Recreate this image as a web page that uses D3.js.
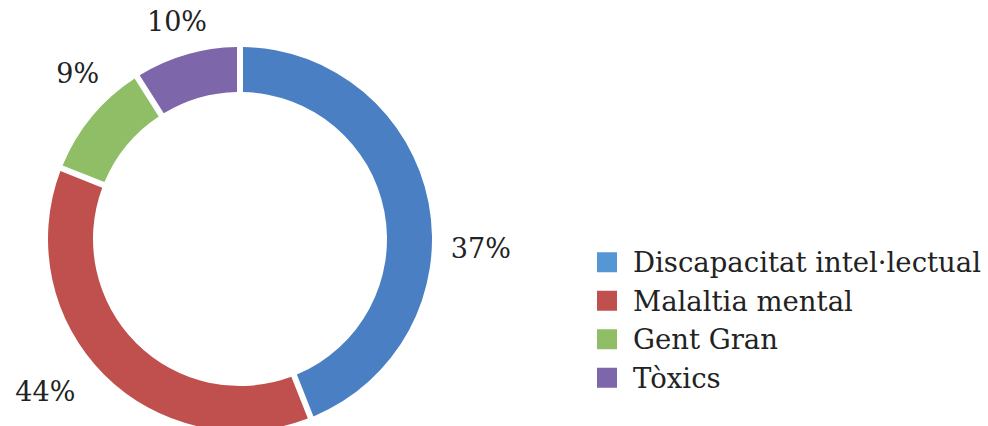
<!DOCTYPE html>
<html>
<head>
<meta charset="utf-8">
<script src="https://cdn.jsdelivr.net/npm/d3@7"></script>
<style>
  body { margin: 0; background: #fff; }
  svg { display: block; }
  text { font-family: "DejaVu Serif", "Liberation Serif", serif; fill: #222; }
</style>
</head>
<body>
<svg id="chart" width="988" height="426"></svg>
<script>
// categories and values (ring shares)
const categories = ["Discapacitat intel·lectual", "Malaltia mental", "Gent Gran", "Tòxics"];
const values = [44, 37, 10, 9];
// label texts as printed on the picture
const labels = ["37%", "44%", "9%", "10%"];

const arcColors = ["#4a80c3", "#c0504d", "#8fbe67", "#7d66aa"];
const keyColors = ["#5597d5", "#c0504d", "#8fbe67", "#7d66aa"];
// label placement tweaks (degrees, px) relative to the slice middle
const labelNudge = [[13, 3], [7, 9], [6, -6], [0, -12]];

const svg = d3.select("#chart");
const cx = 240, cy = 239, rOuter = 192, rInner = 147, rLabel = 238;

const pie = d3.pie().sort(null).value(d => d);
const arcs = pie(values);
const arc = d3.arc().innerRadius(rInner).outerRadius(rOuter)
    .padAngle(6 / rOuter).padRadius(rOuter);

const g = svg.append("g").attr("transform", `translate(${cx},${cy})`);

g.selectAll("path")
    .data(arcs)
    .enter().append("path")
    .attr("d", arc)
    .attr("fill", (d, i) => arcColors[i]);

g.selectAll(".lbl")
    .data(arcs)
    .enter().append("text")
    .attr("class", "lbl")
    .attr("text-anchor", "middle")
    .attr("dy", "0.35em")
    .style("font-size", "27px")
    .attr("transform", (d, i) => {
      const a = (d.startAngle + d.endAngle) / 2 + labelNudge[i][0] * Math.PI / 180;
      const r = rLabel + labelNudge[i][1];
      return `translate(${r * Math.sin(a)},${-r * Math.cos(a)})`;
    })
    .text((d, i) => labels[i]);

// legend
const y = d3.scaleBand().domain(categories).range([243, 397]);
const legend = svg.append("g");
const item = legend.selectAll("g")
    .data(categories)
    .enter().append("g")
    .attr("transform", d => `translate(597,${y(d) + y.bandwidth() / 2})`);

item.append("rect")
    .attr("x", 0).attr("y", -10)
    .attr("width", 20).attr("height", 20)
    .attr("fill", (d, i) => keyColors[i]);

item.append("text")
    .attr("x", 36)
    .attr("dy", "0.36em")
    .style("font-size", "27.5px")
    .text(d => d);
</script>
</body>
</html>
